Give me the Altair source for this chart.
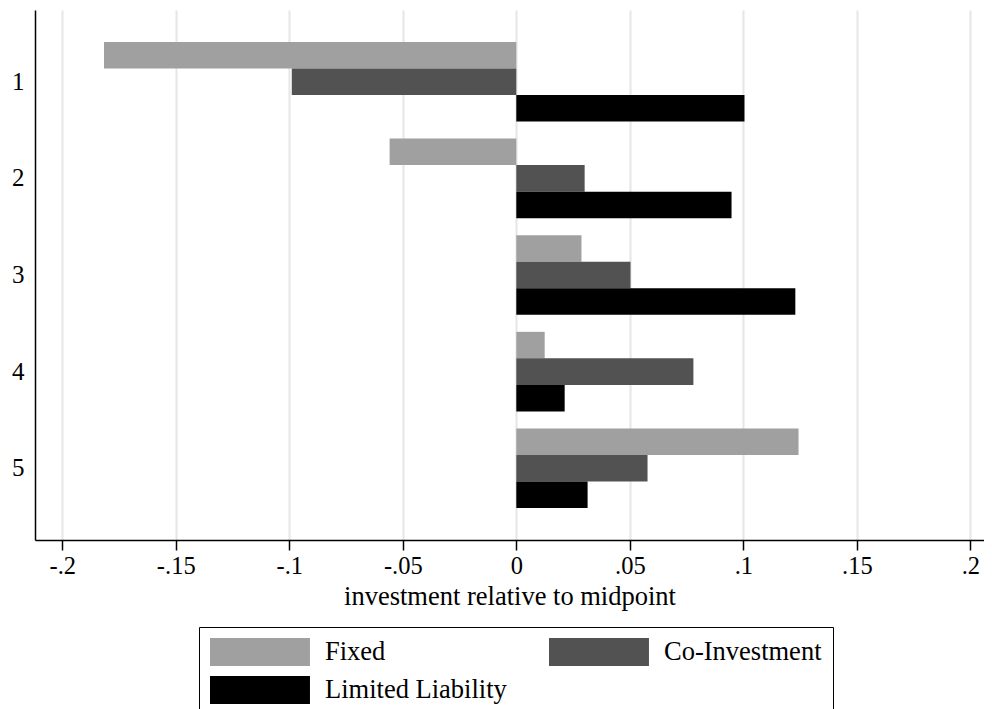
import altair as alt
import pandas as pd

groups = ["1", "2", "3", "4", "5"]
series = ["Fixed", "Co-Investment", "Limited Liability"]
fixed = [-0.1816, -0.0558, 0.0287, 0.0125, 0.1243]
co_investment = [-0.0989, 0.0301, 0.0503, 0.0780, 0.0578]
limited_liability = [0.1005, 0.0948, 0.1229, 0.0213, 0.0314]
colors = ["#a0a0a0", "#525252", "#000000"]
tick_values = [-0.2, -0.15, -0.1, -0.05, 0, 0.05, 0.1, 0.15, 0.2]
tick_labels = ["-.2", "-.15", "-.1", "-.05", "0", ".05", ".1", ".15", ".2"]

rows = []
for s, vals in zip(series, [fixed, co_investment, limited_liability]):
    for g, v in zip(groups, vals):
        rows.append({"group": g, "series": s, "value": v})
df = pd.DataFrame(rows)

label_expr = "[" + ",".join(f"'{t}'" for t in tick_labels) + "][round((datum.value + 0.2) / 0.05)]"

FONT = "Liberation Serif"
# wide legend swatch: 28px tall (symbolSize 784 -> unit = 14px), 100px wide starting at entry's left edge
swatch = "M-1,-1L6.14,-1L6.14,1L-1,1Z"

chart = alt.Chart(df).mark_bar().encode(
    x=alt.X(
        "value:Q",
        scale=alt.Scale(domain=[-0.212, 0.206], nice=False),
        axis=alt.Axis(
            values=tick_values,
            labelExpr=label_expr,
            title="investment relative to midpoint",
            grid=True,
            gridColor="#e6e6e6",
            gridWidth=2,
            tickSize=10,
            tickWidth=1.5,
            tickColor="black",
            domainColor="black",
            domainWidth=1.5,
            labelFont=FONT,
            labelFontSize=24.5,
            labelColor="black",
            labelPadding=4,
            titleFont=FONT,
            titleFontSize=26.5,
            titleFontWeight="normal",
            titleColor="black",
            titlePadding=6,
        ),
    ),
    y=alt.Y(
        "group:N",
        sort=groups,
        scale=alt.Scale(paddingInner=0.176, paddingOuter=0.33),
        axis=alt.Axis(
            title=None,
            ticks=False,
            grid=False,
            labelPadding=11,
            labelFont=FONT,
            labelFontSize=25,
            labelColor="black",
            domainColor="black",
            domainWidth=1.5,
        ),
    ),
    yOffset=alt.YOffset("series:N", sort=series, scale=alt.Scale(paddingInner=0, paddingOuter=0)),
    color=alt.Color(
        "series:N",
        sort=series,
        scale=alt.Scale(domain=series, range=colors),
        legend=alt.Legend(
            orient="none",
            legendX=164,
            legendY=617,
            direction="horizontal",
            columns=2,
            title=None,
            symbolType=swatch,
            symbolSize=784,
            symbolStrokeWidth=0,
            symbolOpacity=1,
            labelFont=FONT,
            labelFontSize=26.5,
            labelColor="black",
            labelLimit=400,
            labelOffset=87,
            columnPadding=42,
            rowPadding=10,
            padding=11,
            strokeColor="black",
            fillColor="white",
        ),
    ),
).properties(
    width=949,
    height=530,
    padding={"left": 27, "top": 2, "right": 0, "bottom": 169},
    autosize=alt.AutoSizeParams(type="none"),
).configure_view(stroke=None)

chart.save("out.html", embed_options={"renderer": "svg", "actions": False})
